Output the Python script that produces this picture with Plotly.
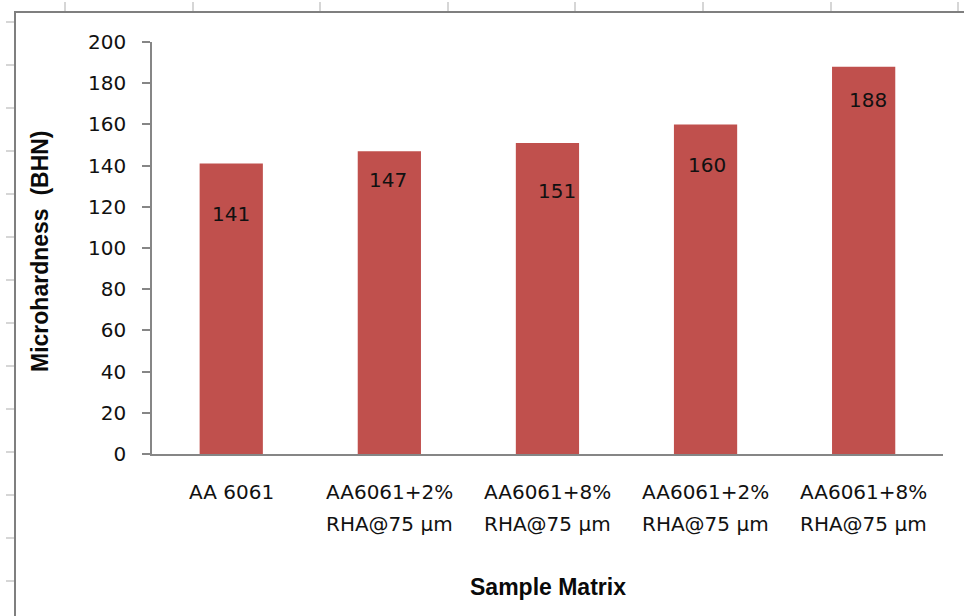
import plotly.graph_objects as go

# Sample matrices (two-line labels) and their measured microhardness
label_line1 = ["AA 6061", "AA6061+2%", "AA6061+8%", "AA6061+2%", "AA6061+8%"]
label_line2 = ["", "RHA@75 µm", "RHA@75 µm", "RHA@75 µm", "RHA@75 µm"]
hardness = [141, 147, 151, 160, 188]
y_ticks = [0, 20, 40, 60, 80, 100, 120, 140, 160, 180, 200]

W, H = 964, 616
BAR_RED = "#C0504D"
AXIS_GREY = "#868686"
SHEET_GREY = "#c8c8c8"

# value label nudges (px) relative to the top of each bar
label_drop = [50, 29, 48, 41, 33]
label_dx = [0, -1, 10, 1, 4]


def px_x(x):
    return x / W


def px_y(y):
    return 1 - y / H


xs = list(range(len(hardness)))

fig = go.Figure()
fig.add_trace(go.Bar(
    x=xs,
    y=hardness,
    width=0.4,
    marker=dict(color=BAR_RED, line=dict(width=0)),
    hoverinfo="skip",
))

annotations = []
# value labels inside the bars
for x, v, d, dx in zip(xs, hardness, label_drop, label_dx):
    annotations.append(dict(
        x=x, y=v, xref="x", yref="y", text=str(v), showarrow=False,
        yshift=-d, xshift=dx, yanchor="middle", xanchor="center",
        font=dict(family="DejaVu Sans", size=20, color="#111111"),
    ))

# two-line category labels below the axis
for x, l1, l2 in zip(xs, label_line1, label_line2):
    annotations.append(dict(
        x=x, y=px_y(492), xref="x", yref="paper", text=l1, showarrow=False,
        yanchor="middle", xanchor="center",
        font=dict(family="DejaVu Sans", size=20, color="#111111"),
    ))
    if l2:
        annotations.append(dict(
            x=x, y=px_y(524), xref="x", yref="paper", text=l2, showarrow=False,
            yanchor="middle", xanchor="center",
            font=dict(family="DejaVu Sans", size=20, color="#111111"),
        ))

# axis titles
annotations.append(dict(
    x=px_x(548), y=px_y(587), xref="paper", yref="paper", text="<b>Sample Matrix</b>",
    showarrow=False, xanchor="center", yanchor="middle",
    font=dict(family="Liberation Sans", size=23, color="#0a0a0a"),
))
annotations.append(dict(
    x=px_x(40), y=px_y(251), xref="paper", yref="paper",
    text="<b>Microhardness  (BHN)</b>", textangle=-90,
    showarrow=False, xanchor="center", yanchor="middle",
    font=dict(family="Liberation Sans", size=23, color="#0a0a0a"),
))

shapes = []
# worksheet cell marks around the chart object
for gx in [65, 193, 320, 448, 575, 703, 831, 958]:
    shapes.append(dict(type="line", xref="paper", yref="paper",
                       x0=px_x(gx), x1=px_x(gx), y0=px_y(2), y1=px_y(11),
                       line=dict(color=SHEET_GREY, width=1.5)))
for k in range(14):
    gy = 22 + 43 * k
    shapes.append(dict(type="line", xref="paper", yref="paper",
                       x0=px_x(6), x1=px_x(14), y0=px_y(gy), y1=px_y(gy),
                       line=dict(color=SHEET_GREY, width=1.5)))
# chart object frame
shapes.append(dict(type="rect", xref="paper", yref="paper",
                   x0=px_x(15), y0=px_y(12), x1=1.02, y1=-0.02,
                   line=dict(color="#7f7f7f", width=2), fillcolor="rgba(0,0,0,0)"))

fig.update_layout(
    width=W, height=H,
    margin=dict(l=0, r=0, t=0, b=0, pad=0, autoexpand=False),
    paper_bgcolor="white", plot_bgcolor="white",
    showlegend=False,
    bargap=0.6,
    xaxis=dict(
        domain=[px_x(152.2), px_x(942.7)],
        range=[-0.5, len(hardness) - 0.5],
        showgrid=False, zeroline=False,
        showline=True, linecolor=AXIS_GREY, linewidth=2,
        tickvals=xs, showticklabels=False, ticks="",
        automargin=False,
        fixedrange=True,
    ),
    yaxis=dict(
        domain=[px_y(454), px_y(42)],
        range=[0, 200],
        tickvals=y_ticks,
        showgrid=False, zeroline=False,
        showline=True, linecolor=AXIS_GREY, linewidth=2,
        ticks="outside", ticklen=8, tickcolor=AXIS_GREY, tickwidth=1.5,
        ticklabelstandoff=12,
        tickfont=dict(family="DejaVu Sans", size=20, color="#111111"),
        automargin=False,
        fixedrange=True,
    ),
    annotations=annotations,
    shapes=shapes,
)

fig.write_html("out.html")
